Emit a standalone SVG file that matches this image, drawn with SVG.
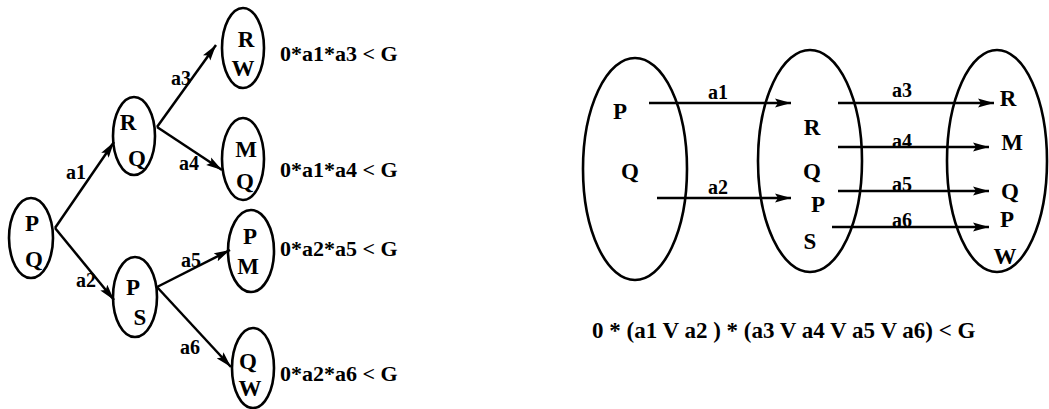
<svg xmlns="http://www.w3.org/2000/svg" width="1049" height="409" viewBox="0 0 1049 409">
<style>
.n{fill:none;stroke:#000;stroke-width:2.6}
.c{stroke:#000;stroke-width:2.5;fill:none}
.t{font-family:"Liberation Serif","DejaVu Serif",serif;font-weight:bold;fill:#000;font-size:23px;text-anchor:middle;dominant-baseline:central}
.l{font-family:"Liberation Serif","DejaVu Serif",serif;font-weight:bold;fill:#000;font-size:20px;text-anchor:middle;dominant-baseline:central}
.f{font-family:"Liberation Serif","DejaVu Serif",serif;font-weight:bold;fill:#000;font-size:22px;dominant-baseline:central}
.g{font-size:23px}
</style>
<defs>
<marker id="ah" markerUnits="userSpaceOnUse" markerWidth="17" markerHeight="10" refX="16" refY="5" orient="auto">
<path d="M0,0.5 L16,5 L0,9.5 L3,5 z" fill="#000"/>
</marker>
</defs>
<rect width="1049" height="409" fill="#fff"/>
<g id="connectors">
<line class="c" x1="55" y1="228" x2="114" y2="142" marker-end="url(#ah)"/>
<line class="c" x1="55" y1="228" x2="114" y2="300" marker-end="url(#ah)"/>
<line class="c" x1="157" y1="127" x2="216" y2="45" marker-end="url(#ah)"/>
<line class="c" x1="157" y1="127" x2="222" y2="170" marker-end="url(#ah)"/>
<line class="c" x1="157" y1="287" x2="230" y2="250" marker-end="url(#ah)"/>
<line class="c" x1="157" y1="287" x2="231" y2="367" marker-end="url(#ah)"/>
<line class="c" x1="649" y1="103" x2="791" y2="103" marker-end="url(#ah)"/>
<line class="c" x1="657" y1="198" x2="791" y2="198" marker-end="url(#ah)"/>
<line class="c" x1="838" y1="103" x2="994" y2="103" marker-end="url(#ah)"/>
<line class="c" x1="838" y1="147" x2="989" y2="147" marker-end="url(#ah)"/>
<line class="c" x1="838" y1="191" x2="989" y2="191" marker-end="url(#ah)"/>
<line class="c" x1="832" y1="227" x2="989" y2="227" marker-end="url(#ah)"/>
<text class="l" x="76" y="172">a1</text>
<text class="l" x="86" y="280">a2</text>
<text class="l" x="181" y="78">a3</text>
<text class="l" x="189" y="163">a4</text>
<text class="l" x="191" y="260">a5</text>
<text class="l" x="190" y="347">a6</text>
<text class="l" x="718" y="92">a1</text>
<text class="l" x="718" y="187">a2</text>
<text class="l" x="902" y="90">a3</text>
<text class="l" x="902" y="141">a4</text>
<text class="l" x="902" y="184">a5</text>
<text class="l" x="902" y="220">a6</text>
</g>
<g id="PQ"><ellipse class="n" cx="31" cy="238" rx="22" ry="40"/><text class="t" x="32" y="223">P</text><text class="t" x="34" y="259">Q</text></g>
<g id="RQ"><ellipse class="n" cx="134" cy="136" rx="21" ry="39"/><text class="t" x="128" y="122">R</text><text class="t" x="137" y="158">Q</text></g>
<g id="PS"><ellipse class="n" cx="135" cy="297" rx="22" ry="40"/><text class="t" x="133" y="287">P</text><text class="t" x="140" y="317">S</text></g>
<g id="RW"><ellipse class="n" cx="243" cy="48" rx="21" ry="40"/><text class="t" x="246" y="39">R</text><text class="t" x="243" y="68">W</text><text class="f" x="280" y="53">0*a1*a3 &lt; G</text></g>
<g id="MQ"><ellipse class="n" cx="243" cy="159" rx="21" ry="41"/><text class="t" x="246" y="149">M</text><text class="t" x="245" y="181">Q</text><text class="f" x="280" y="169">0*a1*a4 &lt; G</text></g>
<g id="PM"><ellipse class="n" cx="251" cy="251" rx="23" ry="41"/><text class="t" x="250" y="236">P</text><text class="t" x="248" y="266">M</text><text class="f" x="280" y="248">0*a2*a5 &lt; G</text></g>
<g id="QW"><ellipse class="n" cx="253" cy="368" rx="21" ry="40"/><text class="t" x="248" y="361">Q</text><text class="t" x="250" y="388">W</text><text class="f" x="280" y="373">0*a2*a6 &lt; G</text></g>
<g id="set1"><ellipse class="n" cx="635" cy="169" rx="52" ry="111"/><text class="t" x="620" y="111">P</text><text class="t" x="630" y="171">Q</text></g>
<g id="set2"><ellipse class="n" cx="810" cy="161" rx="52" ry="111"/><text class="t" x="812" y="127">R</text><text class="t" x="812" y="171">Q</text><text class="t" x="818" y="204">P</text><text class="t" x="810" y="241">S</text></g>
<g id="set3"><ellipse class="n" cx="997" cy="161" rx="50" ry="111"/><text class="t" x="1008" y="98">R</text><text class="t" x="1012" y="142">M</text><text class="t" x="1010" y="191">Q</text><text class="t" x="1007" y="219">P</text><text class="t" x="1005" y="256">W</text></g>
<g id="formula"><text class="f g" x="592" y="330">0 * (a1 V a2 ) * (a3 V a4 V a5 V a6) &lt; G</text></g>
</svg>
